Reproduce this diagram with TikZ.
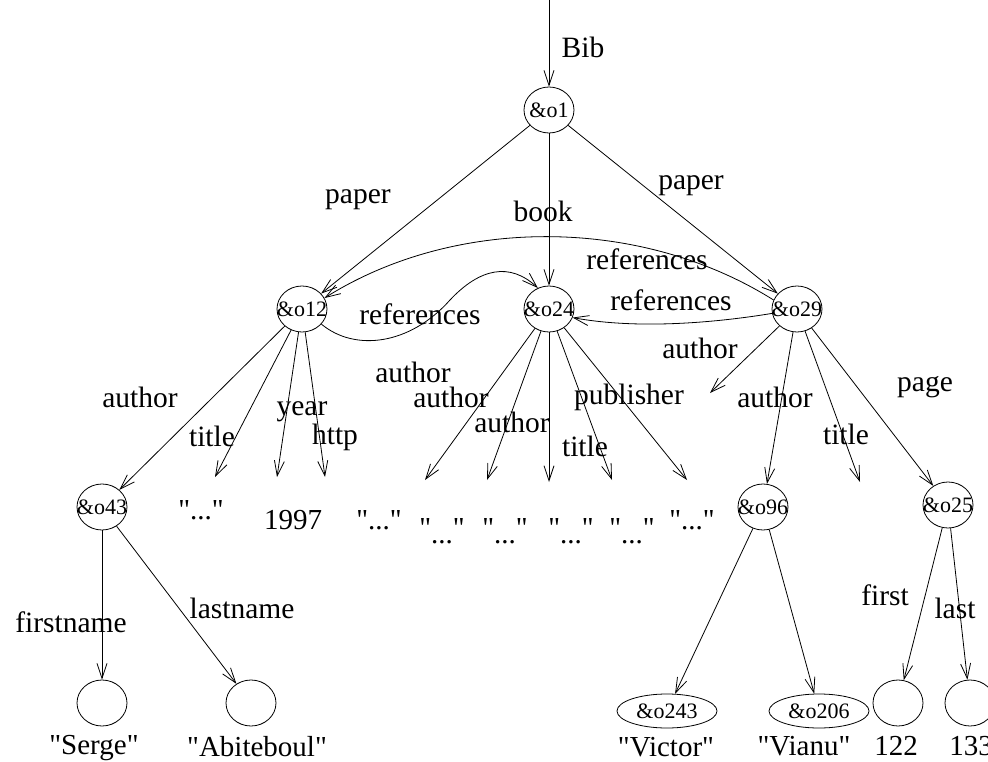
\documentclass[tikz,border=0pt]{standalone}
\usepackage{fontspec}
\setmainfont{Liberation Serif}[Ligatures=TeXOff]
\usetikzlibrary{arrows.meta,shapes.geometric}

\begin{document}
\begin{tikzpicture}[x=1pt,y=-1pt,
  obj/.style={draw, ellipse, minimum width=50pt, minimum height=46pt,
    inner sep=0pt, line width=0.8pt, font=\fontsize{22}{22}\selectfont},
  wide/.style={obj, minimum width=100pt, minimum height=34pt},
  lbl/.style={font=\fontsize{29.5}{29.5}\selectfont, inner sep=0pt},
  val/.style={font=\fontsize{29}{29}\selectfont, inner sep=0pt, anchor=base},
  link/.style={-{Straight Barb[length=15pt,width=10pt]}, line width=0.8pt},
]
\useasboundingbox (0,0) rectangle (988,762);

% object nodes
\node[obj] (o1)  at (549,110) {\makebox[0pt]{\&o1}};
\node[obj] (o12) at (302,309) {\makebox[0pt]{\&o12}};
\node[obj] (o24) at (549,309) {\makebox[0pt]{\&o24}};
\node[obj] (o29) at (797,309) {\makebox[0pt]{\&o29}};
\node[obj] (o43) at (102,507) {\makebox[0pt]{\&o43}};
\node[obj] (o96) at (763,507) {\makebox[0pt]{\&o96}};
\node[obj] (o25) at (948,505) {\makebox[0pt]{\&o25}};
\node[obj] (serge) at (102,703) {};
\node[obj] (abit)  at (251,703) {};
\node[wide] (o243) at (667,711) {\&o243};
\node[wide] (o206) at (819,711) {\&o206};
\node[obj] (n122) at (898,703) {};
\node[obj] (n133) at (970,703) {};

% atomic values
\node[val] (s1) at (201,519) {"..."};
\node[val] (s2) at (293,529) {1997};
\node[val] (s3) at (379,529) {"..."};
\node[val] (s4) at (442,537) {"\raisebox{-6pt}{...}"};
\node[val] (s5) at (505,537) {"\raisebox{-6pt}{...}"};
\node[val] (s6) at (571,537) {"\raisebox{-6pt}{...}"};
\node[val] (s7) at (632,537) {"\raisebox{-6pt}{...}"};
\node[val] (s8) at (692,529) {"..."};
\node[val] (t1) at (94,754)  {"Serge"};
\node[val] (t2) at (257,756) {"Abiteboul"};
\node[val] (t3) at (666,756) {"Victor"};
\node[val] (t4) at (804,755) {"Vianu"};
\node[val] (t5) at (896,755) {122};
\node[val] (t6) at (971,755) {133};

% free arrow ends
\coordinate (root) at (549,0);
\coordinate (e1) at (215,477);
\coordinate (e2) at (277,477);
\coordinate (e3) at (325,477);
\coordinate (f1) at (425,480);
\coordinate (f2) at (487,480);
\coordinate (f3) at (549,482);
\coordinate (f4) at (612,480);
\coordinate (f5) at (687,480);
\coordinate (g1) at (710,393);
\coordinate (g2) at (860,482);

% edges
\draw[link] (root) -- (o1);
\draw[link] (o1) -- (o12);
\draw[link] (o1) -- (o24);
\draw[link] (o1) -- (o29);
\draw[link] (o12) -- (o43);
\draw[link] (o12) -- (e1);
\draw[link] (o12) -- (e2);
\draw[link] (o12) -- (e3);
\draw[link] (o24) -- (f1);
\draw[link] (o24) -- (f2);
\draw[link] (o24) -- (f3);
\draw[link] (o24) -- (f4);
\draw[link] (o24) -- (f5);
\draw[link] (o29) -- (g1);
\draw[link] (o29) -- (o96);
\draw[link] (o29) -- (g2);
\draw[link] (o29) -- (o25);
\draw[link] (o43) -- (serge);
\draw[link] (o43) -- (abit);
\draw[link] (o96) -- (o243);
\draw[link] (o96) -- (o206);
\draw[link] (o25) -- (n122);
\draw[link] (o25) -- (n133);

% reference edges
\draw[link] (o29.159) .. controls (640,216) and (455,216) .. (o12.26);
\draw[link] (o12.-38) .. controls (355,352) and (410,345) .. (450,300)
  .. controls (480,268) and (510,262) .. (o24.118);
\draw[link] (o29.190) .. controls (720,322) and (640,330) .. (o24.-20);

% edge labels
\node[lbl] at (583,47)  {Bib};
\node[lbl] at (358,200) {paper};
\node[lbl] at (543,211) {book};
\node[lbl] at (691,186) {paper};
\node[lbl] at (647,259) {references};
\node[lbl] at (420,314) {references};
\node[lbl] at (671,300) {references};
\node[lbl] at (140,397) {author};
\node[lbl] at (212,436) {title};
\node[lbl] at (302,412) {year};
\node[lbl] at (335,437) {http};
\node[lbl] at (413,372) {author};
\node[lbl] at (451,397) {author};
\node[lbl] at (512,422) {author};
\node[lbl] at (629,397) {publisher};
\node[lbl] at (585,446) {title};
\node[lbl] at (700,348) {author};
\node[lbl] at (775,397) {author};
\node[lbl] at (846,434) {title};
\node[lbl] at (925,387) {page};
\node[lbl] at (71,622)  {firstname};
\node[lbl] at (242,608) {lastname};
\node[lbl] at (885,595) {first};
\node[lbl] at (955,608) {last};
\end{tikzpicture}
\end{document}
